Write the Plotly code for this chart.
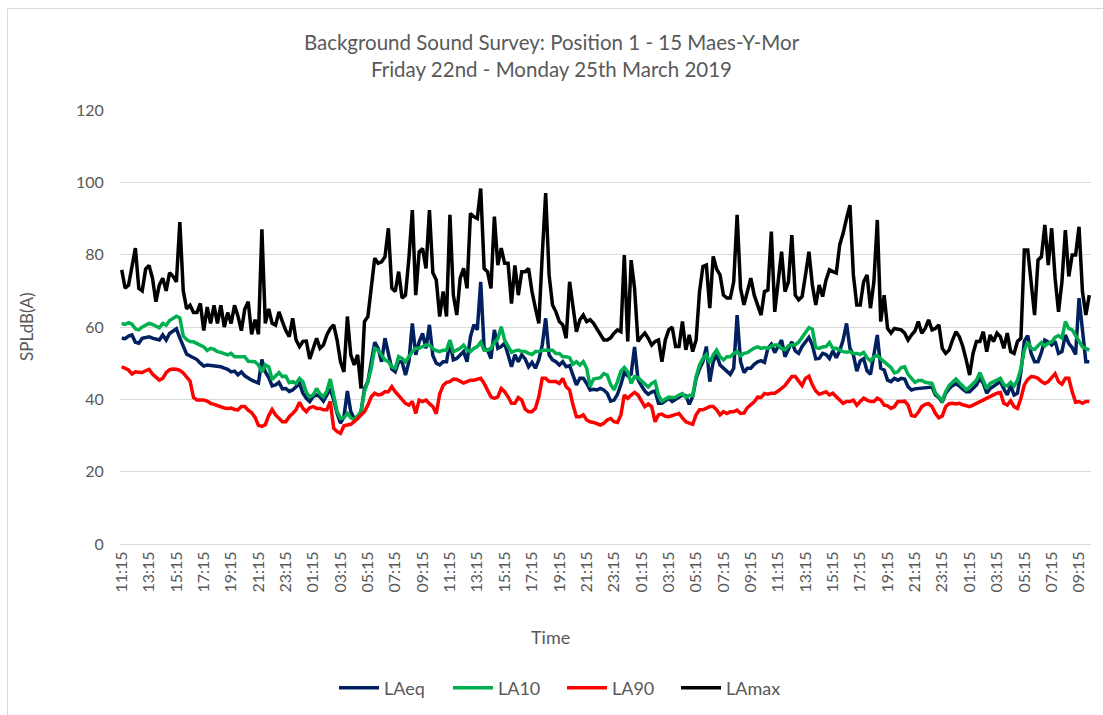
import pandas as pd
import plotly.graph_objects as go

# 15-minute intervals, Friday 22nd 11:15 -> Monday 25th 10:00
times = pd.date_range("2019-03-22 11:15", periods=284, freq="15min")
time_labels = [t.strftime("%H:%M") for t in times]

LAeq = [
    56.9, 56.8, 57.5, 57.8, 55.8, 55.5, 56.9, 57.2, 57.3, 56.9,
    56.6, 56.4, 57.8, 56.4, 58.2, 59.0, 59.5, 57.0, 54.5, 52.5,
    52.0, 51.5, 51.0, 50.0, 49.2, 49.5, 49.4, 49.3, 49.1, 49.0,
    48.6, 48.3, 47.6, 47.8, 46.8, 47.6, 46.5, 45.8, 45.3, 44.9,
    44.5, 51.0, 47.6, 46.0, 43.7, 44.0, 44.7, 42.9, 43.0, 42.2,
    42.6, 43.5, 44.4, 41.7, 40.3, 39.4, 40.7, 41.2, 40.7, 39.5,
    41.0, 42.9, 39.8, 36.1, 33.4, 35.2, 42.3, 36.6, 34.7, 34.7,
    36.6, 43.0, 44.9, 50.4, 55.8, 54.1, 50.4, 56.9, 52.3, 48.4,
    47.6, 50.4, 50.4, 46.7, 50.4, 61.0, 52.3, 55.9, 58.2, 54.1,
    60.6, 52.1, 50.0, 49.5, 50.4, 50.4, 55.9, 50.9, 51.3, 52.3,
    53.2, 50.4, 57.3, 60.6, 59.2, 72.5, 54.1, 53.6, 51.3, 59.2,
    54.1, 54.6, 55.5, 52.3, 49.0, 52.3, 50.4, 52.3, 51.2, 49.0,
    50.2, 48.6, 50.9, 55.0, 62.4, 52.3, 50.9, 50.4, 49.5, 50.4,
    49.0, 49.3, 46.7, 44.0, 45.8, 45.8, 44.4, 42.6, 42.8, 42.6,
    43.0, 42.6, 41.7, 39.5, 39.8, 41.4, 44.1, 47.4, 46.5, 47.0,
    54.5, 45.5, 43.8, 42.3, 41.4, 42.0, 42.3, 38.9, 38.9, 39.6,
    40.3, 39.4, 40.1, 40.7, 41.2, 41.0, 38.6, 40.7, 45.8, 48.4,
    50.4, 54.6, 44.9, 50.4, 52.3, 49.5, 48.6, 47.6, 46.9, 48.6,
    63.3, 50.4, 47.4, 48.6, 48.6, 49.7, 50.4, 50.7, 50.2, 54.1,
    55.2, 52.9, 54.6, 56.4, 51.8, 54.1, 55.9, 53.4, 52.7, 54.6,
    55.8, 57.1, 55.0, 51.2, 51.3, 52.7, 52.4, 51.3, 53.4, 51.5,
    53.4, 56.4, 61.0, 54.1, 52.3, 47.8, 50.6, 51.2, 47.9, 46.9,
    52.3, 57.8, 48.6, 48.1, 45.3, 44.9, 45.8, 45.3, 45.8, 45.6,
    43.5, 42.6, 42.9, 43.0, 43.2, 43.2, 43.3, 43.4, 41.2, 40.5,
    39.2, 41.7, 42.9, 43.8, 44.3, 43.7, 42.8, 42.1, 42.1, 43.0,
    44.0, 45.8, 44.4, 41.7, 43.0, 43.6, 44.4, 44.9, 42.9, 41.2,
    43.8, 41.2, 41.7, 47.6, 56.1, 57.6, 52.7, 50.4, 50.4, 53.0,
    56.4, 55.9, 55.0, 56.1, 52.7, 53.2, 57.8, 55.5, 54.3, 52.4,
    68.0, 59.6, 50.4, 50.4,
]

LA10 = [
    61.0, 60.7, 61.2, 60.8, 59.5, 59.2, 60.0, 60.5, 61.0, 60.7,
    60.2, 59.8, 61.0, 60.5, 61.8, 62.5, 63.0, 62.5, 57.5, 56.5,
    56.0, 55.9, 55.5, 55.0, 54.5, 53.5, 54.1, 53.8, 53.2, 53.0,
    52.7, 52.3, 52.7, 51.8, 51.8, 51.8, 51.8, 50.5, 50.4, 50.4,
    49.5, 47.6, 49.5, 49.0, 45.5, 46.4, 47.4, 46.3, 46.4, 44.6,
    44.9, 44.4, 45.8, 44.9, 41.9, 40.7, 41.2, 43.0, 41.5, 40.7,
    42.3, 45.6, 40.7, 36.6, 34.7, 34.9, 36.1, 34.9, 34.3, 35.4,
    36.6, 42.1, 44.9, 48.6, 54.1, 53.6, 52.3, 50.9, 50.4, 49.0,
    48.6, 51.8, 51.3, 50.4, 51.8, 53.2, 54.1, 54.1, 54.6, 55.0,
    55.0, 54.0, 53.5, 53.2, 53.6, 53.6, 56.4, 53.2, 53.6, 54.1,
    55.0, 53.6, 53.2, 54.1, 54.6, 55.8, 53.6, 53.6, 54.1, 55.8,
    56.7, 60.1, 56.4, 54.8, 53.0, 53.4, 53.6, 53.2, 53.2, 52.7,
    52.4, 53.2, 53.2, 53.6, 53.6, 53.6, 53.6, 52.7, 52.7, 51.8,
    51.8, 51.5, 49.7, 50.4, 49.5, 50.4, 48.6, 43.5, 45.6, 45.8,
    46.0, 47.1, 46.7, 44.1, 42.6, 44.9, 47.8, 48.8, 47.6, 44.4,
    46.3, 46.0, 45.1, 44.1, 43.4, 44.4, 44.9, 41.2, 39.5, 40.1,
    40.6, 40.5, 40.6, 41.2, 41.6, 40.5, 41.1, 41.0, 46.3, 49.5,
    51.3, 52.4, 50.0, 52.3, 53.6, 51.8, 50.9, 51.8, 51.8, 52.7,
    53.2, 52.0, 52.7, 52.9, 53.6, 54.2, 54.5, 54.1, 54.3, 54.1,
    54.7, 55.0, 55.0, 54.0, 53.7, 54.8, 55.0, 55.1, 55.8, 57.3,
    58.5, 59.8, 59.4, 54.3, 54.1, 54.5, 54.6, 55.7, 54.1, 54.1,
    53.6, 53.2, 53.0, 53.2, 52.7, 52.7, 52.4, 53.0, 51.5, 50.6,
    51.8, 52.1, 51.2, 50.4, 49.3, 48.8, 47.3, 47.6, 48.8, 49.0,
    46.9, 45.6, 44.7, 45.2, 45.2, 44.7, 44.6, 44.4, 41.7, 40.5,
    39.6, 42.1, 43.8, 44.7, 45.6, 44.6, 43.6, 42.7, 43.4, 44.4,
    45.3, 47.4, 44.9, 43.0, 44.4, 44.9, 45.3, 45.8, 44.0, 43.7,
    44.7, 43.7, 45.3, 48.6, 53.6, 55.8, 54.1, 53.8, 54.8, 55.7,
    54.7, 55.5, 55.9, 57.1, 57.6, 56.9, 61.5, 59.6, 59.2, 57.6,
    55.8, 54.5, 54.1, 53.6,
]

LA90 = [
    49.0, 48.5, 48.1, 47.0, 47.6, 47.5, 47.4, 47.9, 48.3, 47.0,
    46.0, 45.3, 45.8, 47.4, 48.2, 48.4, 48.3, 48.0, 47.3, 46.0,
    45.0, 40.5, 39.8, 39.8, 39.8, 39.5, 38.9, 38.6, 38.2, 37.9,
    37.6, 37.5, 37.6, 37.2, 37.1, 38.0, 38.0, 37.0, 36.3, 35.0,
    32.8, 32.5, 33.0, 35.5, 37.2, 35.7, 34.7, 33.8, 33.8, 35.2,
    36.1, 37.1, 39.2, 37.5, 36.6, 37.7, 38.0, 37.5, 37.5, 37.1,
    37.1, 39.4, 32.0, 31.1, 30.6, 32.7, 32.9, 33.1, 33.8, 34.7,
    35.7, 36.6, 38.4, 40.7, 41.7, 41.2, 41.4, 42.1, 42.1, 43.5,
    42.1, 41.0, 39.8, 38.9, 38.4, 39.4, 36.1, 39.8, 39.4, 39.8,
    38.8, 38.0, 36.0, 41.5, 43.8, 44.7, 44.9, 45.6, 45.5, 45.1,
    44.5, 44.9, 45.3, 45.3, 45.5, 45.8, 44.4, 42.6, 40.7, 40.3,
    40.7, 43.0, 42.1, 40.7, 38.9, 38.9, 40.5, 39.8, 37.3, 36.6,
    36.6, 37.5, 40.7, 45.8, 45.8, 44.9, 44.9, 44.9, 44.4, 45.8,
    43.5, 42.6, 38.4, 35.2, 35.2, 35.7, 34.3, 33.8, 33.6, 33.2,
    32.9, 33.4, 34.3, 34.7, 33.8, 33.6, 35.7, 41.2, 40.3, 41.2,
    41.9, 41.2, 39.4, 38.0, 38.7, 38.0, 33.8, 35.7, 35.9, 35.3,
    35.2, 35.5, 35.9, 36.1, 34.9, 33.8, 33.4, 33.1, 35.7, 37.1,
    37.1, 37.5, 38.0, 38.0, 37.1, 35.7, 36.6, 36.1, 36.6, 36.6,
    37.0, 36.1, 36.2, 37.7, 38.4, 39.3, 40.6, 40.5, 41.6, 41.4,
    41.7, 41.7, 42.3, 43.0, 43.8, 45.1, 46.3, 46.3, 45.2, 43.8,
    45.8, 46.4, 44.0, 42.3, 41.4, 41.7, 42.1, 41.2, 41.7, 40.7,
    39.8, 38.9, 39.4, 39.4, 39.8, 38.4, 39.4, 40.3, 39.8, 39.4,
    39.4, 40.3, 39.8, 38.4, 38.2, 37.5, 38.0, 39.4, 39.4, 39.5,
    38.4, 35.5, 35.3, 36.4, 38.0, 38.6, 38.8, 38.0, 36.1, 34.9,
    35.4, 38.0, 38.8, 38.9, 38.7, 38.9, 38.5, 38.2, 38.0, 38.4,
    38.9, 39.4, 39.8, 40.3, 40.7, 41.2, 41.7, 41.9, 38.9, 38.4,
    39.6, 38.0, 37.5, 40.3, 44.0, 45.5, 46.3, 46.2, 45.8, 44.9,
    44.4, 44.9, 46.0, 47.1, 44.9, 44.2, 45.8, 45.8, 42.1, 39.2,
    39.4, 38.9, 39.4, 39.4,
]

LAmax = [
    75.8, 70.7, 71.6, 77.0, 81.8, 70.7, 70.0, 76.0, 77.0, 73.5,
    67.0, 71.6, 73.5, 70.0, 75.0, 74.0, 72.5, 89.0, 70.0, 65.0,
    66.0, 64.0, 64.0, 66.5, 59.0, 65.5, 61.0, 66.0, 61.0, 66.0,
    60.0, 64.0, 61.0, 66.0, 63.0, 59.0, 65.0, 67.0, 58.0, 62.0,
    58.0, 87.0, 61.0, 65.0, 61.0, 60.5, 64.2, 61.5, 59.0, 57.3,
    62.4, 56.4, 54.6, 56.0, 56.1, 51.2, 54.1, 56.9, 54.1, 55.0,
    57.8, 59.6, 60.6, 56.4, 50.4, 47.6, 62.9, 52.3, 49.5, 52.3,
    43.0, 61.5, 62.9, 70.7, 79.0, 77.6, 78.0, 79.4, 87.3, 70.7,
    69.8, 75.3, 68.0, 68.8, 79.0, 92.3, 68.8, 80.8, 81.7, 76.2,
    92.3, 75.0, 73.0, 62.9, 69.8, 62.9, 91.0, 68.8, 63.3, 73.5,
    76.2, 70.7, 91.4, 90.5, 90.0, 98.3, 76.2, 75.3, 70.7, 90.5,
    77.1, 81.8, 77.6, 77.6, 66.5, 77.0, 68.8, 75.3, 75.3, 76.2,
    69.8, 65.2, 61.0, 79.9, 97.0, 74.4, 66.1, 64.2, 61.5, 60.6,
    56.9, 72.5, 66.1, 58.7, 62.0, 63.3, 61.5, 62.0, 61.0, 59.5,
    57.8, 56.4, 56.4, 57.0, 58.3, 59.2, 58.7, 79.9, 56.0, 78.5,
    70.7, 56.0, 57.3, 58.3, 56.9, 55.0, 56.0, 56.4, 50.4, 56.4,
    59.2, 60.0, 54.6, 54.6, 61.5, 53.7, 57.8, 53.2, 56.4, 69.8,
    76.7, 77.1, 65.2, 79.5, 76.0, 74.4, 68.8, 68.0, 68.0, 72.5,
    91.0, 70.7, 66.1, 69.8, 73.5, 68.8, 66.0, 63.3, 69.8, 70.2,
    86.4, 64.2, 72.5, 80.8, 69.8, 72.5, 85.4, 68.8, 67.5, 68.4,
    74.4, 80.8, 71.6, 66.1, 71.6, 68.4, 73.0, 75.8, 75.3, 74.9,
    82.7, 85.9, 90.0, 93.7, 74.4, 66.1, 66.1, 72.5, 74.4, 65.2,
    72.5, 89.6, 61.5, 68.8, 59.6, 58.3, 59.6, 59.4, 59.2, 58.3,
    56.4, 57.8, 58.9, 61.5, 58.3, 59.6, 62.0, 59.2, 59.6, 60.6,
    54.1, 52.7, 53.6, 56.4, 58.7, 57.3, 54.6, 50.9, 46.7, 52.7,
    56.0, 56.0, 58.7, 53.2, 57.8, 56.0, 58.3, 57.3, 54.1, 58.3,
    53.2, 52.7, 56.0, 56.9, 81.3, 81.3, 72.5, 63.3, 78.5, 79.4,
    88.2, 77.1, 87.3, 73.5, 64.2, 72.5, 86.8, 74.0, 79.9, 79.9,
    87.7, 69.8, 63.3, 68.8,
]

series_names = ["LAeq", "LA10", "LA90", "LAmax"]
series_values = [LAeq, LA10, LA90, LAmax]
series_colors = ["#002060", "#00B050", "#FF0000", "#000000"]

tick_step = 8  # every 2 hours
tick_vals = list(times[::tick_step])
tick_text = time_labels[::tick_step]

FONT = "Lato"
GREY = "#595959"
W, H = 1103, 715
ML, MR, MT, MB = 120, 12, 110, 171
PW, PH = W - ML - MR, H - MT - MB


def px_x(px):
    return (px - ML) / PW


def px_y(py):
    return (H - MB - py) / PH


fig = go.Figure()
for name, vals, col in zip(series_names, series_values, series_colors):
    fig.add_trace(go.Scatter(
        x=times, y=vals, mode="lines", name=name,
        line=dict(color=col, width=3.5),
    ))

half = pd.Timedelta(minutes=7.5)
fig.update_layout(
    width=W, height=H,
    margin=dict(l=ML, r=MR, t=MT, b=MB, autoexpand=False),
    paper_bgcolor="white", plot_bgcolor="white",
    font=dict(family=FONT, color=GREY, size=16),
    title=dict(
        text="Background Sound Survey: Position 1 - 15 Maes-Y-Mor<br>Friday 22nd - Monday 25th March 2019",
        x=0.5, xref="container", xanchor="center",
        y=0.93, yref="container", yanchor="top",
        font=dict(family=FONT, size=20.5, color=GREY),
    ),
    showlegend=True,
    legend=dict(
        orientation="h", x=px_x(562), xanchor="center", y=px_y(688), yanchor="middle",
        font=dict(family=FONT, size=18, color=GREY),
        itemwidth=40, entrywidth=59, entrywidthmode="pixels",
    ),
    xaxis=dict(
        range=[times[0] - half, times[-1] + half],
        tickmode="array", tickvals=tick_vals, ticktext=tick_text,
        tickangle=-90, tickfont=dict(size=16, color=GREY),
        showgrid=False, zeroline=False,
        showline=True, linecolor="#D9D9D9", linewidth=1,
        ticks="", automargin=False,
    ),
    yaxis=dict(
        range=[0, 120], dtick=20, tick0=0,
        showgrid=True, gridcolor="#D9D9D9", gridwidth=1,
        zeroline=False, showline=False,
        tickfont=dict(size=16, color=GREY),
        ticks="outside", ticklen=12, tickcolor="rgba(0,0,0,0)",
        automargin=False,
    ),
    annotations=[
        dict(text="Time", x=px_x(550), y=px_y(637), xref="paper", yref="paper",
             xanchor="center", yanchor="middle", showarrow=False,
             font=dict(family=FONT, size=18, color=GREY)),
        dict(text="SPLdB(A)", x=px_x(26), y=px_y(327), xref="paper", yref="paper",
             xanchor="center", yanchor="middle", showarrow=False, textangle=-90,
             font=dict(family=FONT, size=17, color=GREY)),
    ],
    shapes=[
        dict(type="rect", xref="paper", yref="paper",
             x0=px_x(7.5), x1=px_x(1115), y0=px_y(730), y1=px_y(8.5),
             line=dict(color="#D9D9D9", width=1), fillcolor="rgba(0,0,0,0)",
             layer="below"),
    ],
)

fig.write_html(
    "out.html",
    config={"displayModeBar": False},
    post_script="document.body.style.margin='0';document.body.style.overflow='hidden';",
)
